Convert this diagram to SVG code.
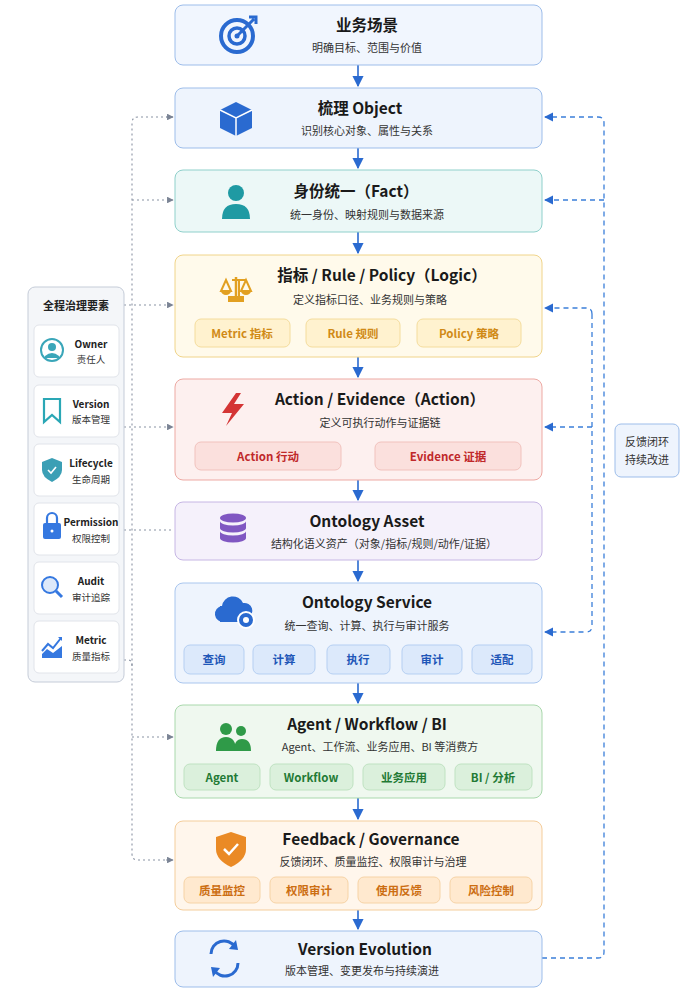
<svg xmlns="http://www.w3.org/2000/svg" width="692" height="1000" viewBox="0 0 692 1000">
<defs>
<style>
text{font-family:"Noto Sans CJK SC","Noto Sans",sans-serif}
.t{font-size:15.5px;font-weight:700;fill:#1a1a1a;text-anchor:middle}
.s{font-size:11px;fill:#333;text-anchor:middle}
.c{font-size:11.5px;font-weight:700;text-anchor:middle}
.g{fill:#fff;stroke:#e1e4ea;stroke-width:1}
.gt{font-size:10px;font-weight:700;fill:#222;text-anchor:middle}
.gs{font-size:9.5px;fill:#333;text-anchor:middle}
.flow{stroke:#2a6ad0;stroke-width:1.6;fill:none}
.fb{stroke:#3b7fd9;stroke-width:1.3;fill:none;stroke-dasharray:5 4}
.dot{stroke:#8a93a3;stroke-width:1.1;fill:none;stroke-dasharray:2 3}
</style>
<marker id="ab" viewBox="0 0 10 10" refX="9" refY="5" markerWidth="7" markerHeight="7" orient="auto"><path d="M0,0L10,5L0,10z" fill="#2a6ad0"/></marker>
<marker id="af" viewBox="0 0 10 10" refX="9" refY="5" markerWidth="7" markerHeight="7" orient="auto"><path d="M0,0L10,5L0,10z" fill="#2a6ad0"/></marker>
<marker id="ag" viewBox="0 0 10 10" refX="9" refY="5" markerWidth="6" markerHeight="6" orient="auto"><path d="M0,0L10,5L0,10z" fill="#7a8394"/></marker>
</defs>
<rect width="692" height="1000" fill="#fff"/>

<g id="connectors">
<path class="flow" marker-end="url(#ab)" d="M358,65V86"/>
<path class="flow" marker-end="url(#ab)" d="M358,148V168"/>
<path class="flow" marker-end="url(#ab)" d="M358,232V253"/>
<path class="flow" marker-end="url(#ab)" d="M358,357V377"/>
<path class="flow" marker-end="url(#ab)" d="M358,480V500"/>
<path class="flow" marker-end="url(#ab)" d="M358,560V581"/>
<path class="flow" marker-end="url(#ab)" d="M358,683V703"/>
<path class="flow" marker-end="url(#ab)" d="M358,798V819"/>
<path class="flow" marker-end="url(#ab)" d="M358,910V929"/>
<path class="fb" marker-end="url(#af)" d="M542,958H598Q604,958 604,952V123Q604,117 598,117H545"/>
<path class="fb" marker-end="url(#af)" d="M604,200H545"/>
<path class="fb" marker-end="url(#af)" d="M592,314Q592,308 586,308H545"/>
<path class="fb" marker-end="url(#af)" d="M592,314V626Q592,632 586,632H545"/>
<path class="fb" marker-end="url(#af)" d="M592,427H545"/>
<path class="dot" d="M173,117H138Q132,117 132,123V854Q132,860 138,860H173"/>
<path class="dot" marker-end="url(#ag)" d="M166,117H173"/>
<path class="dot" marker-end="url(#ag)" d="M132,200H173"/>
<path class="dot" marker-end="url(#ag)" d="M124,305H173"/>
<path class="dot" marker-end="url(#ag)" d="M124,427H173"/>
<path class="dot" d="M124,530H173"/>
<path class="dot" marker-end="url(#ag)" d="M132,737H173"/>
<path class="dot" marker-end="url(#ag)" d="M166,860H173"/>
<path class="dot" d="M124,660H128Q132,660 132,666"/>
</g>

<g id="n1">
<rect x="175" y="5" width="367" height="60" rx="8" fill="#f1f6fe" stroke="#9dbdea"/>
<circle cx="237" cy="36" r="16" fill="none" stroke="#2a6ad0" stroke-width="4"/>
<circle cx="237" cy="36" r="8" fill="none" stroke="#2a6ad0" stroke-width="3.5"/>
<circle cx="237" cy="36" r="2.5" fill="#2a6ad0"/>
<path d="M238,35L254,19M249,17L256,17L256,24" stroke="#2a6ad0" stroke-width="3" fill="none"/>
<text class="t" x="367" y="31">业务场景</text>
<text class="s" x="367" y="52">明确目标、范围与价值</text>
</g>

<g id="n2">
<rect x="175" y="88" width="367" height="60" rx="8" fill="#eef4fd" stroke="#9dbdea"/>
<path d="M236,102L252,110V128L236,136L220,128V110Z" fill="#2a6ad0"/>
<path d="M220,110L236,118L252,110M236,118V136" stroke="#fff" stroke-width="1.5" fill="none"/>
<text class="t" x="360" y="114">梳理 Object</text>
<text class="s" x="367" y="135">识别核心对象、属性与关系</text>
</g>

<g id="n3">
<rect x="175" y="170" width="367" height="62" rx="8" fill="#ecf8f7" stroke="#8fd0cb"/>
<circle cx="236" cy="193" r="8" fill="#1f9aa3"/>
<path d="M222,219Q222,204 236,204Q250,204 250,219Z" fill="#1f9aa3"/>
<text class="t" x="356" y="197">身份统一（Fact）</text>
<text class="s" x="367" y="219">统一身份、映射规则与数据来源</text>
</g>

<g id="n4">
<rect x="175" y="255" width="367" height="102" rx="8" fill="#fffaeb" stroke="#f0d48a"/>
<path d="M229,298H239V279M232,280H246M226,280L221,291H231ZM246,280L241,291H251Z" stroke="#e2a021" stroke-width="2" fill="none"/>
<path d="M221,291A5,4 0 0 0 231,291ZM241,291A5,4 0 0 0 251,291ZM228,296H244V302H228Z" fill="#e2a021"/>
<line x1="236" y1="277" x2="236" y2="297" stroke="#e2a021" stroke-width="2.5"/>
<text class="t" x="382" y="281">指标 / Rule / Policy（Logic）</text>
<text class="s" x="370" y="304">定义指标口径、业务规则与策略</text>
<rect x="195" y="319" width="95" height="28" rx="6" fill="#fff2cf" stroke="#f4dc9c"/>
<rect x="306" y="319" width="94" height="28" rx="6" fill="#fff2cf" stroke="#f4dc9c"/>
<rect x="417" y="319" width="104" height="28" rx="6" fill="#fff2cf" stroke="#f4dc9c"/>
<text class="c" fill="#d08a16" x="242" y="338">Metric 指标</text>
<text class="c" fill="#d08a16" x="353" y="338">Rule 规则</text>
<text class="c" fill="#d08a16" x="469" y="338">Policy 策略</text>
</g>

<g id="n5">
<rect x="175" y="379" width="367" height="101" rx="8" fill="#fdf0ef" stroke="#eda9a3"/>
<path d="M236,393L222,413H232L226,426L244,404H234L241,393Z" fill="#d43535"/>
<text class="t" x="380" y="405">Action / Evidence（Action）</text>
<text class="s" x="380" y="427">定义可执行动作与证据链</text>
<rect x="195" y="442" width="146" height="28" rx="6" fill="#fbe0dd" stroke="#f1c2bd"/>
<rect x="375" y="442" width="146" height="28" rx="6" fill="#fbe0dd" stroke="#f1c2bd"/>
<text class="c" fill="#c0282a" x="268" y="461">Action 行动</text>
<text class="c" fill="#c0282a" x="448" y="461">Evidence 证据</text>
</g>

<g id="n6">
<rect x="175" y="502" width="367" height="58" rx="8" fill="#f5f1fb" stroke="#c6b6e4"/>
<ellipse cx="233" cy="518" rx="13" ry="4.5" fill="#8057c2"/>
<path d="M220,521V528A13,4.5 0 0 0 246,528V521A13,4.5 0 0 1 220,521Z" fill="#8057c2"/>
<path d="M220,531V538A13,4.5 0 0 0 246,538V531A13,4.5 0 0 1 220,531Z" fill="#8057c2"/>
<text class="t" x="367" y="527">Ontology Asset</text>
<text class="s" x="384" y="548">结构化语义资产（对象/指标/规则/动作/证据）</text>
</g>

<g id="n7">
<rect x="175" y="583" width="367" height="100" rx="8" fill="#eef4fd" stroke="#a9c6ee"/>
<path d="M224,622A8,8 0 0 1 222,606A11,11 0 0 1 243,603A8,8 0 0 1 248,618" fill="#2a6ad0"/>
<rect x="220" y="606" width="24" height="16" fill="#2a6ad0"/>
<circle cx="246" cy="620" r="8" fill="#2a6ad0" stroke="#fff" stroke-width="2"/>
<circle cx="246" cy="620" r="3" fill="#fff"/>
<text class="t" x="367" y="608">Ontology Service</text>
<text class="s" x="367" y="630">统一查询、计算、执行与审计服务</text>
<rect x="184" y="645" width="60" height="29" rx="6" fill="#dce9fb" stroke="#b5cff2"/>
<rect x="253" y="645" width="62" height="29" rx="6" fill="#dce9fb" stroke="#b5cff2"/>
<rect x="327" y="645" width="63" height="29" rx="6" fill="#dce9fb" stroke="#b5cff2"/>
<rect x="402" y="645" width="60" height="29" rx="6" fill="#dce9fb" stroke="#b5cff2"/>
<rect x="472" y="645" width="60" height="29" rx="6" fill="#dce9fb" stroke="#b5cff2"/>
<text class="c" fill="#1f57b8" x="214" y="664">查询</text>
<text class="c" fill="#1f57b8" x="284" y="664">计算</text>
<text class="c" fill="#1f57b8" x="358" y="664">执行</text>
<text class="c" fill="#1f57b8" x="432" y="664">审计</text>
<text class="c" fill="#1f57b8" x="502" y="664">适配</text>
</g>

<g id="n8">
<rect x="175" y="705" width="367" height="93" rx="8" fill="#eff8ef" stroke="#a9d8ac"/>
<circle cx="226" cy="729" r="6" fill="#2f9a48"/>
<circle cx="241" cy="731" r="5" fill="#2f9a48"/>
<path d="M216,751Q216,737 226,737Q236,737 236,751Z" fill="#2f9a48"/>
<path d="M234,751Q234,739 242,739Q251,739 251,751Z" fill="#2f9a48"/>
<text class="t" x="367" y="730">Agent / Workflow / BI</text>
<text class="s" x="380" y="751">Agent、工作流、业务应用、BI 等消费方</text>
<rect x="184" y="764" width="76" height="26" rx="6" fill="#dbf0dc" stroke="#bfe2c1"/>
<rect x="270" y="764" width="83" height="26" rx="6" fill="#dbf0dc" stroke="#bfe2c1"/>
<rect x="363" y="764" width="82" height="26" rx="6" fill="#dbf0dc" stroke="#bfe2c1"/>
<rect x="455" y="764" width="77" height="26" rx="6" fill="#dbf0dc" stroke="#bfe2c1"/>
<text class="c" fill="#237a35" x="222" y="782">Agent</text>
<text class="c" fill="#237a35" x="311" y="782">Workflow</text>
<text class="c" fill="#237a35" x="404" y="782">业务应用</text>
<text class="c" fill="#237a35" x="493" y="782">BI / 分析</text>
</g>

<g id="n9">
<rect x="175" y="821" width="367" height="89" rx="8" fill="#fff6ec" stroke="#f4cd9b"/>
<path d="M231,832L246,837V849Q246,860 231,867Q216,860 216,849V837Z" fill="#ea8a25"/>
<path d="M224,849L229,854L238,844" stroke="#fff" stroke-width="2.5" fill="none"/>
<text class="t" x="371" y="845">Feedback / Governance</text>
<text class="s" x="373" y="866">反馈闭环、质量监控、权限审计与治理</text>
<rect x="184" y="877" width="76" height="26" rx="6" fill="#ffe9cf" stroke="#f6d3a6"/>
<rect x="270" y="877" width="78" height="26" rx="6" fill="#ffe9cf" stroke="#f6d3a6"/>
<rect x="358" y="877" width="82" height="26" rx="6" fill="#ffe9cf" stroke="#f6d3a6"/>
<rect x="450" y="877" width="82" height="26" rx="6" fill="#ffe9cf" stroke="#f6d3a6"/>
<text class="c" fill="#cc6e12" x="222" y="895">质量监控</text>
<text class="c" fill="#cc6e12" x="309" y="895">权限审计</text>
<text class="c" fill="#cc6e12" x="399" y="895">使用反馈</text>
<text class="c" fill="#cc6e12" x="491" y="895">风险控制</text>
</g>

<g id="n10">
<rect x="175" y="931" width="367" height="56" rx="8" fill="#eef4fd" stroke="#9dbdea"/>
<path d="M211,954A13,13 0 0 1 235,947" stroke="#2a6ad0" stroke-width="3" fill="none"/>
<path d="M236,940L238,950L229,949Z" fill="#2a6ad0"/>
<path d="M238,963A13,13 0 0 1 214,970" stroke="#2a6ad0" stroke-width="3" fill="none"/>
<path d="M213,977L211,967L220,968Z" fill="#2a6ad0"/>
<text class="t" x="365" y="955">Version Evolution</text>
<text class="s" x="362" y="975">版本管理、变更发布与持续演进</text>
</g>

<g id="loop">
<rect x="615" y="424" width="64" height="53" rx="6" fill="#eef4fd" stroke="#9dbdea"/>
<text class="s" x="647" y="446" fill="#222">反馈闭环</text>
<text class="s" x="647" y="464" fill="#222">持续改进</text>
</g>

<g id="governance">
<rect x="28" y="287" width="96" height="395" rx="7" fill="#f4f6f9" stroke="#c5ccd8"/>
<text x="76" y="310" text-anchor="middle" font-size="11" font-weight="700" fill="#222">全程治理要素</text>
<rect class="g" x="34" y="325" width="85" height="52" rx="5"/>
<rect class="g" x="34" y="385" width="85" height="52" rx="5"/>
<rect class="g" x="34" y="444" width="85" height="52" rx="5"/>
<rect class="g" x="34" y="503" width="85" height="52" rx="5"/>
<rect class="g" x="34" y="562" width="85" height="52" rx="5"/>
<rect class="g" x="34" y="621" width="85" height="52" rx="5"/>
<circle cx="52" cy="350" r="11" fill="none" stroke="#3aa6b9" stroke-width="2"/>
<circle cx="52" cy="347" r="4" fill="#3aa6b9"/>
<path d="M45,356Q52,350 59,356V358H45Z" fill="#3aa6b9"/>
<path d="M44,399H60V422L52,415L44,422Z" fill="none" stroke="#2aa7b5" stroke-width="2.2"/>
<path d="M52,458L62,462V470Q62,477 52,482Q42,477 42,470V462Z" fill="#3b9fb5"/>
<path d="M48,470L51,473L56,467" stroke="#fff" stroke-width="1.6" fill="none"/>
<path d="M47,523V518A5,5 0 0 1 57,518V523" stroke="#3578e0" stroke-width="2.2" fill="none"/>
<rect x="43" y="523" width="18" height="16" rx="2" fill="#3578e0"/>
<circle cx="52" cy="531" r="1.5" fill="#fff"/>
<circle cx="50" cy="585" r="8" fill="#dde9fa" stroke="#3578e0" stroke-width="2"/>
<path d="M56,591L62,597" stroke="#3578e0" stroke-width="3"/>
<path d="M42,651L48,644L53,648L61,638" stroke="#3578e0" stroke-width="2" fill="none"/>
<path d="M58,637H62V641Z" fill="#3578e0"/>
<path d="M42,658V654L47,649L53,653L62,646V658Z" fill="#3578e0"/>
<text class="gt" x="91" y="348">Owner</text><text class="gs" x="91" y="363">责任人</text>
<text class="gt" x="91" y="408">Version</text><text class="gs" x="91" y="423">版本管理</text>
<text class="gt" x="91" y="467">Lifecycle</text><text class="gs" x="91" y="483">生命周期</text>
<text class="gt" x="91" y="526" font-size="9">Permission</text><text class="gs" x="91" y="542">权限控制</text>
<text class="gt" x="91" y="585">Audit</text><text class="gs" x="91" y="601">审计追踪</text>
<text class="gt" x="91" y="644">Metric</text><text class="gs" x="91" y="660">质量指标</text>
</g>
</svg>
